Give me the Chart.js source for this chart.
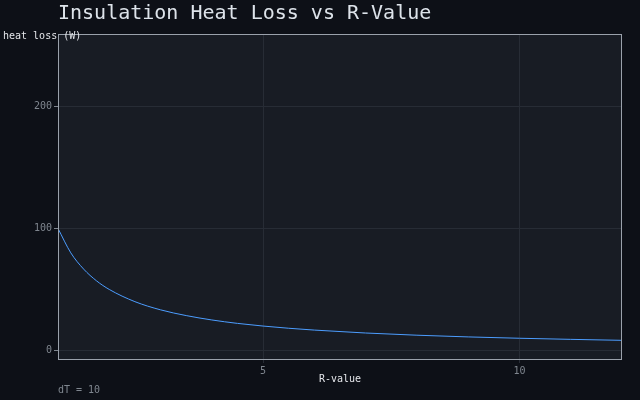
<!DOCTYPE html>
<html>
<head>
<meta charset="utf-8">
<script src="https://cdn.jsdelivr.net/npm/chart.js@4.4.1/dist/chart.umd.min.js"></script>
<style>
html,body{margin:0;padding:0;background:#0d1017;}
#wrap{width:640px;height:400px;position:relative;}
</style>
</head>
<body>
<div id="wrap"><canvas id="c" width="640" height="400"></canvas></div>
<script>
// Data
const rValues = [1, 1.25, 1.5, 1.75, 2, 2.5, 3, 3.5, 4, 4.5, 5, 5.5, 6, 7, 8, 9, 10, 11, 12];
const heatLoss = [100, 80, 66.7, 57.1, 50, 40, 33.3, 28.6, 25, 22.2, 20, 18.2, 16.7, 14.3, 12.5, 11.1, 10, 9.1, 8.3];
const xTicks = [5, 10];
const yTicks = [0, 100, 200];
const chartTitle = 'Insulation Heat Loss vs R-Value';
const yLabel = 'heat loss (W)';
const xLabel = 'R-value';
const footNote = 'dT = 10';

const FONT = '"DejaVu Sans Mono", "Liberation Mono", monospace';

const decor = {
  id: 'decor',
  beforeDraw(chart) {
    const {ctx, chartArea: a} = chart;
    ctx.save();
    ctx.fillStyle = '#0d1017';
    ctx.fillRect(0, 0, chart.width, chart.height);
    ctx.fillStyle = '#181c24';
    ctx.fillRect(a.left, a.top, a.right - a.left, a.bottom - a.top);
    ctx.restore();
  },
  afterDraw(chart) {
    const {ctx, chartArea: a} = chart;
    ctx.save();
    ctx.strokeStyle = '#9aa1ab';
    ctx.lineWidth = 1;
    ctx.strokeRect(a.left + 0.5, a.top + 0.5, a.right - a.left - 1, a.bottom - a.top);
    ctx.textBaseline = 'middle';
    ctx.textAlign = 'left';
    ctx.fillStyle = '#dde3ea';
    ctx.font = '20px ' + FONT;
    ctx.fillText(chartTitle, 58, 14);
    ctx.fillStyle = '#e4e6ea';
    ctx.font = '10px ' + FONT;
    ctx.fillText(yLabel, 3, 36);
    ctx.textAlign = 'center';
    ctx.fillText(xLabel, (a.left + a.right) / 2, 379);
    ctx.textAlign = 'left';
    ctx.fillStyle = '#7f868f';
    ctx.fillText(footNote, 58, 390);
    ctx.restore();
  }
};

new Chart(document.getElementById('c'), {
  type: 'line',
  data: {
    datasets: [{
      data: rValues.map((r, i) => ({x: r, y: heatLoss[i]})),
      borderColor: '#4c9dff',
      borderWidth: 1,
      pointRadius: 0,
      fill: false,
      cubicInterpolationMode: 'monotone'
    }]
  },
  options: {
    responsive: false,
    animation: false,
    layout: {padding: {top: 34, right: 18, left: 0, bottom: 0}},
    plugins: {legend: {display: false}, tooltip: {enabled: false}, title: {display: false}},
    scales: {
      x: {
        type: 'linear', min: 1, max: 12,
        afterBuildTicks: s => { s.ticks = xTicks.map(v => ({value: v})); },
        afterFit: s => { s.height = 41; },
        grid: {color: '#272c35', tickColor: '#272c35', tickLength: 4},
        border: {display: false},
        ticks: {color: '#7f868f', font: {family: FONT, size: 10}, padding: 2, maxRotation: 0}
      },
      y: {
        type: 'linear', min: -7.0, max: 259.4,
        afterBuildTicks: s => { s.ticks = yTicks.map(v => ({value: v})); },
        afterFit: s => { s.width = 58; },
        grid: {color: '#272c35', tickColor: '#7f868f', tickLength: 4},
        border: {display: false},
        ticks: {color: '#7f868f', font: {family: FONT, size: 10}, padding: 2}
      }
    }
  },
  plugins: [decor]
});
</script>
</body>
</html>
